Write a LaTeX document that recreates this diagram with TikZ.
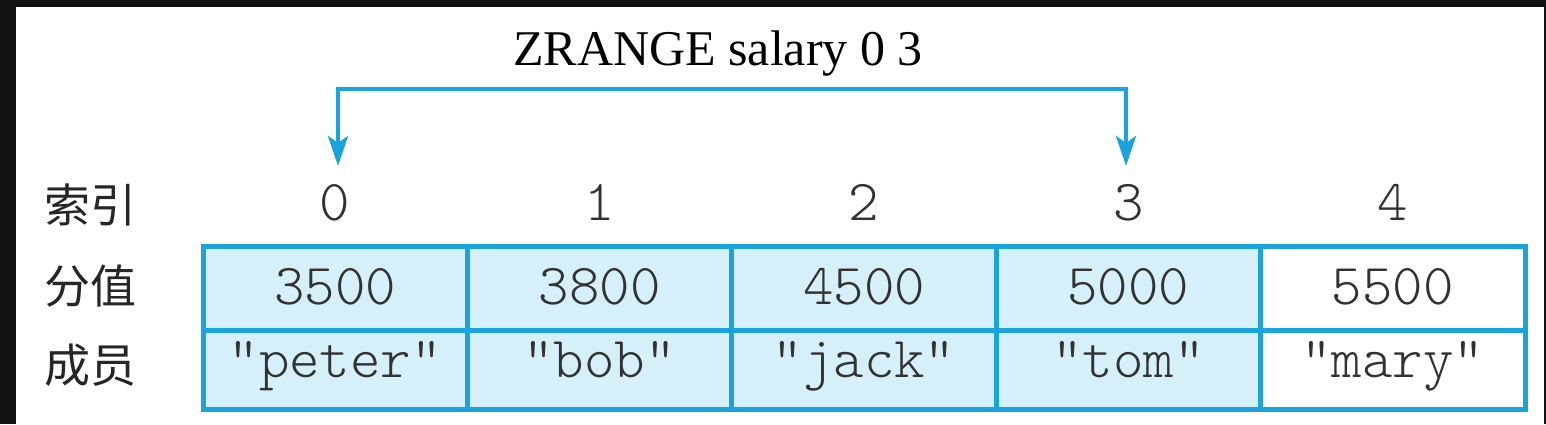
\documentclass[tikz,border=0pt]{standalone}
\usepackage{fontspec}
\setmainfont{Liberation Serif}
\setmonofont{Latin Modern Mono Light}
\newfontfamily\cjk{Noto Sans CJK SC}
\usetikzlibrary{arrows.meta}
\definecolor{bblue}{RGB}{26,163,220}
\definecolor{lblue}{RGB}{214,240,250}
\definecolor{frame}{RGB}{17,17,17}
\definecolor{txt}{RGB}{50,50,50}
\tikzset{
  cjklab/.style={font=\cjk\fontsize{46}{50}\selectfont, text=black!85, anchor=base, inner sep=0pt},
  idx/.style={font=\ttfamily\fontsize{58}{60}\selectfont, text=txt, anchor=base, inner sep=0pt},
  cell/.style={font=\ttfamily\fontsize{58}{60}\selectfont, text=txt, anchor=base, inner sep=0pt},
  grid/.style={draw=bblue, line width=5pt},
  arr/.style={draw=bblue, line width=4pt, {Stealth[length=30pt,width=20pt,inset=7pt]}-{Stealth[length=30pt,width=20pt,inset=7pt]}}
}
\begin{document}
\begin{tikzpicture}[x=1pt,y=-1pt]
\useasboundingbox (0,0) rectangle (1546,424);
\fill[white] (0,0) rectangle (1546,424);
% dark frame
\fill[frame] (0,0) rectangle (16,424);
\fill[frame] (0,0) rectangle (1546,7);
\fill[frame] (1544,0) rectangle (1546,424);
% title
\node[font=\fontsize{50}{54}\selectfont, anchor=base, inner sep=0pt] (title) at (718,65) {ZRANGE salary 0 3};
% row labels
\node[cjklab] (lidx) at (90,222) {索引};
\node[cjklab] (lval) at (90,303) {分值};
\node[cjklab] (lmem) at (90,382) {成员};
% table fills
\fill[lblue] (203,246) rectangle (1261,409);
% grid
\draw[grid] (203,246) rectangle (1525,409);
\draw[grid] (203,330) -- (1525,330);
\foreach \k in {1,2,3,4} {
  \draw[grid] ({203+264.4*\k},246) -- ({203+264.4*\k},409);
}
% index labels and cells
\foreach \k/\v/\m in {0/3500/"peter",1/3800/"bob",2/4500/"jack",3/5000/"tom",4/5500/"mary"} {
  \node[idx] (i\k) at ({203+264.4*\k+132.2},220) {\k};
  \node[cell] (v\k) at ({203+264.4*\k+132.2},304) {\v};
  \node[cell] (m\k) at ({203+264.4*\k+132.2},377) {\m};
}
% arrow
\coordinate (a0) at (338,89);
\coordinate (a3) at (1126,89);
\coordinate (e0) at (338,166);
\coordinate (e3) at (1126,166);
\draw[arr] (e0) -- (a0) -- (a3) -- (e3);
\end{tikzpicture}
\end{document}
